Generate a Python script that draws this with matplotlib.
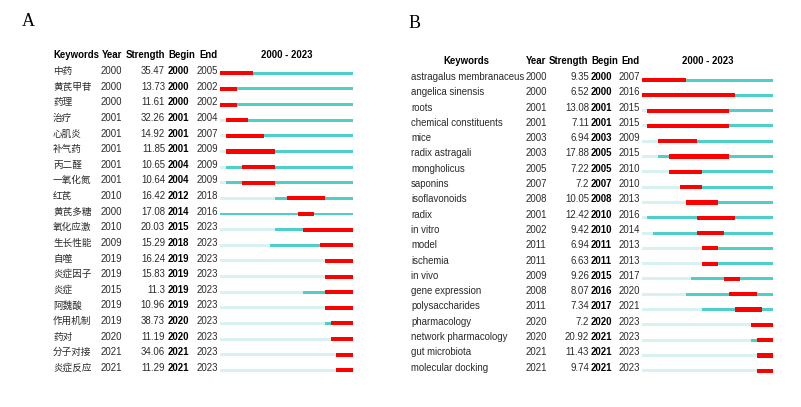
import matplotlib
matplotlib.use("Agg")
import matplotlib.pyplot as plt

plt.rcParams['font.family'] = ['Liberation Sans', 'Noto Sans CJK SC', 'DejaVu Sans']

# ---------------- data ----------------
kw_a = ['中药', '黄芪甲苷', '药理', '治疗', '心肌炎', '补气药', '丙二醛', '一氧化氮', '红芪', '黄芪多糖',
        '氧化应激', '生长性能', '自噬', '炎症因子', '炎症', '阿魏酸', '作用机制', '药对', '分子对接', '炎症反应']
year_a = [2000, 2000, 2000, 2001, 2001, 2001, 2001, 2001, 2010, 2000,
          2010, 2009, 2019, 2019, 2015, 2019, 2019, 2020, 2021, 2021]
strength_a = ['35.47', '13.73', '11.61', '32.26', '14.92', '11.85', '10.65', '10.64', '16.42', '17.08',
              '20.03', '15.29', '16.24', '15.83', '11.3', '10.96', '38.73', '11.19', '34.06', '11.29']
begin_a = [2000, 2000, 2000, 2001, 2001, 2001, 2004, 2004, 2012, 2014,
           2015, 2018, 2019, 2019, 2019, 2019, 2020, 2020, 2021, 2021]
end_a = [2005, 2002, 2002, 2004, 2007, 2009, 2009, 2009, 2018, 2016,
         2023, 2023, 2023, 2023, 2023, 2023, 2023, 2023, 2023, 2023]

kw_b = ['astragalus membranaceus', 'angelica sinensis', 'roots', 'chemical constituents', 'mice',
        'radix astragali', 'mongholicus', 'saponins', 'isoflavonoids', 'radix', 'in vitro', 'model',
        'ischemia', 'in vivo', 'gene expression', 'polysaccharides', 'pharmacology',
        'network pharmacology', 'gut microbiota', 'molecular docking']
year_b = [2000, 2000, 2001, 2001, 2003, 2003, 2005, 2007, 2008, 2001,
          2002, 2011, 2011, 2009, 2008, 2011, 2020, 2020, 2021, 2021]
strength_b = ['9.35', '6.52', '13.08', '7.11', '6.94', '17.88', '7.22', '7.2', '10.05', '12.42',
              '9.42', '6.94', '6.63', '9.26', '8.07', '7.34', '7.2', '20.92', '11.43', '9.74']
begin_b = [2000, 2000, 2001, 2001, 2003, 2005, 2005, 2007, 2008, 2010,
           2010, 2011, 2011, 2015, 2016, 2017, 2020, 2021, 2021, 2021]
end_b = [2007, 2016, 2015, 2015, 2009, 2015, 2010, 2010, 2013, 2016,
         2014, 2013, 2013, 2017, 2020, 2021, 2023, 2023, 2023, 2023]

start_year, end_year = 2000, 2023
headers = ['Keywords', 'Year', 'Strength', 'Begin', 'End']
span_label = f'{start_year} - {end_year}'

RED = '#FF0000'
TEAL = '#4FCFCA'
LIGHT = '#D8F2F2'
TXT = '#2a2a2a'
FS = 6.9

W, H = 801, 407
fig = plt.figure(figsize=(W / 100, H / 100), dpi=100)


def panel(letter, letter_xy, kws, years, strengths, begins, ends,
          row0, spacing, tl_x0, tl_x1, cols, kw_header_center, bar_off, red_h, teal_h):
    n = len(kws)
    top_px = row0 - 2 * spacing
    bot_px = row0 + n * spacing
    bottom = 1 - bot_px / H
    height = (bot_px - top_px) / H
    ax_t = fig.add_axes([0, bottom, 1, height])
    ax_t.set_xlim(0, W)
    ax_t.set_ylim(n, -2)
    ax_t.axis('off')
    ax_b = fig.add_axes([tl_x0 / W, bottom, (tl_x1 - tl_x0) / W, height])
    ax_b.set_xlim(start_year, end_year + 1)
    ax_b.set_ylim(n, -2)
    ax_b.axis('off')

    fig.text(letter_xy[0] / W, 1 - letter_xy[1] / H, letter, family='Liberation Serif',
             fontsize=13, ha='left', va='baseline', color='black')

    hx = cols['hdr']
    hy = -1.02
    if kw_header_center:
        ax_t.text(kw_header_center, hy, headers[0], ha='center', va='center',
                  fontsize=FS, fontweight='bold', color='black')
    else:
        ax_t.text(hx[0], hy, headers[0], ha='left', va='center', fontsize=FS,
                  fontweight='bold', color='black')
    for h, x in zip(headers[1:], hx[1:]):
        ax_t.text(x, hy, h, ha='left', va='center', fontsize=FS, fontweight='bold', color='black')
    ax_t.text((tl_x0 + tl_x1) / 2, hy, span_label, ha='center', va='center',
              fontsize=FS, fontweight='bold', color='black')

    for i in range(n):
        ax_t.text(cols['kw'], i, kws[i], ha='left', va='center', fontsize=FS, color=TXT)
        ax_t.text(cols['year'], i, str(years[i]), ha='left', va='center', fontsize=FS, color=TXT)
        ax_t.text(cols['str'], i, strengths[i], ha='right', va='center', fontsize=FS, color=TXT)
        ax_t.text(cols['begin'], i, str(begins[i]), ha='left', va='center', fontsize=FS,
                  fontweight='bold', color='black')
        ax_t.text(cols['end'], i, str(ends[i]), ha='left', va='center', fontsize=FS, color=TXT)

        y = i + bar_off
        ax_b.barh(y, years[i] - start_year, left=start_year, height=teal_h, color=LIGHT, lw=0)
        ax_b.barh(y, end_year + 1 - years[i], left=years[i], height=teal_h, color=TEAL, lw=0)
        ax_b.barh(y, ends[i] + 1 - begins[i], left=begins[i], height=red_h, color=RED, lw=0)


panel('A', (22, 26), kw_a, year_a, strength_a, begin_a, end_a,
      row0=71, spacing=15.63, tl_x0=220, tl_x1=353,
      cols=dict(hdr=[53, 102, 126, 168, 199], kw=53, year=101, str=165, begin=168, end=197),
      kw_header_center=None, bar_off=0.15, red_h=0.26, teal_h=0.19)

panel('B', (409, 28), kw_b, year_b, strength_b, begin_b, end_b,
      row0=77, spacing=15.3, tl_x0=642, tl_x1=773,
      cols=dict(hdr=[444, 526, 549, 591, 621], kw=411, year=526, str=589, begin=591, end=619),
      kw_header_center=466.5, bar_off=0.2, red_h=0.27, teal_h=0.2)

fig.savefig('out.png', dpi=100, facecolor='white')
